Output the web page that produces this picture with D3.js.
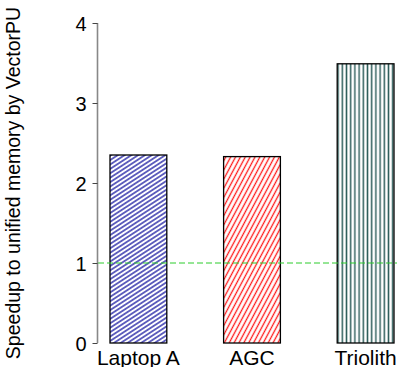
<!DOCTYPE html>
<html><head><meta charset="utf-8">
<script src="https://cdn.jsdelivr.net/npm/d3@7/dist/d3.min.js"></script>
<style>body{margin:0;background:#fff}svg{display:block}</style>
</head><body>
<script>
const categories = ["Laptop A", "AGC", "Triolith"];
const values = [2.35, 2.33, 3.49];
const yTicks = [0, 1, 2, 3, 4];
const baseline = 1;
const yLabel = "Speedup to unified memory by VectorPU";

const W = 397, H = 367;
const svg = d3.select("body").append("svg").attr("width", W).attr("height", H);
const font = "'Liberation Sans', Arial, Helvetica, sans-serif";

const y = d3.scaleLinear().domain([0, 4]).range([343, 23]);
const x = d3.scaleBand().domain(categories).range([110, 394]).paddingInner(0.5).paddingOuter(0);

const defs = svg.append("defs");
const pats = [
  {id: "p0", color: "#1616a0", rot: -33, gap: 3.7, sw: 1.3},
  {id: "p1", color: "#ff1a1a", rot: -62, gap: 4.3, sw: 1.3},
  {id: "p2", color: "#2f5f5c", rot: 90, gap: 4.2, sw: 1.5}
];
pats.forEach(p => {
  const pt = defs.append("pattern").attr("id", p.id).attr("patternUnits", "userSpaceOnUse")
    .attr("width", 20).attr("height", p.gap).attr("patternTransform", `rotate(${p.rot})`);
  pt.append("rect").attr("width", 20).attr("height", p.gap).attr("fill", "#fff");
  pt.append("line").attr("x1", 0).attr("x2", 20).attr("y1", p.gap / 2).attr("y2", p.gap / 2)
    .attr("stroke", p.color).attr("stroke-width", p.sw);
});

// bars
svg.selectAll("rect.bar").data(categories).enter().append("rect").attr("class", "bar")
  .attr("x", d => x(d)).attr("width", x.bandwidth())
  .attr("y", (d, i) => y(values[i])).attr("height", (d, i) => y(0) - y(values[i]))
  .attr("fill", (d, i) => `url(#p${i})`).attr("stroke", "#000").attr("stroke-width", 1.3);

// baseline dashed
svg.append("line").attr("x1", 98).attr("x2", W).attr("y1", y(baseline)).attr("y2", y(baseline))
  .attr("stroke", "#2ccc2c").attr("stroke-width", 1).attr("stroke-dasharray", "6,3");

// y axis
const ax = svg.append("g").attr("transform", "translate(97.5,0)")
  .call(d3.axisLeft(y).tickValues(yTicks).tickFormat(d3.format("d")).tickSize(5).tickPadding(6));
ax.select(".domain").attr("stroke", "#888").attr("stroke-width", 1.6).attr("d", `M0,${y(4)}V${y(0)}`);
ax.selectAll(".tick line").attr("stroke", "#444").attr("stroke-width", 1);
ax.selectAll(".tick text").attr("font-family", font).attr("font-size", 20).attr("fill", "#000").attr("dy", "0.35em");

// x labels
svg.selectAll("text.xl").data(categories).enter().append("text").attr("class", "xl")
  .attr("x", d => x(d) + x.bandwidth() / 2).attr("y", 365).attr("text-anchor", "middle")
  .attr("font-family", font).attr("font-size", 21).text(d => d);

// y label
svg.append("text").attr("transform", "translate(20,183) rotate(-90)").attr("text-anchor", "middle")
  .attr("font-family", font).attr("font-size", 19.5).text(yLabel);
</script>
</body></html>
